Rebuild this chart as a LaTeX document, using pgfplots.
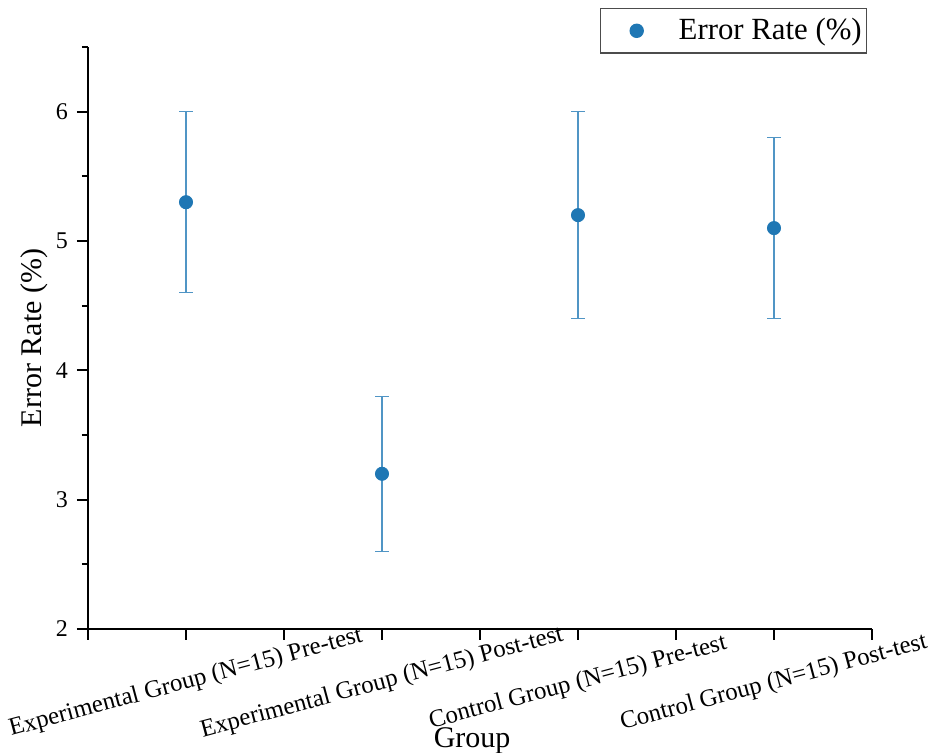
\documentclass[border=0pt]{standalone}
\usepackage{pgfplots}
\pgfplotsset{compat=1.18}
\usepackage{fontspec}
\setmainfont{Liberation Serif}
\definecolor{ptblue}{HTML}{1F77B4}
\begin{document}
\begin{tikzpicture}
\useasboundingbox (-44pt,-62pt) rectangle (425pt,314.5pt);
\begin{axis}[
  at={(0,0)}, anchor=south west,
  scale only axis,
  width=392pt, height=291pt,
  xmin=0.5, xmax=4.5,
  ymin=2, ymax=6.5,
  axis x line*=bottom,
  axis y line*=left,
  axis line style={line width=1pt, black},
  tick align=outside,
  xtick={0.5,1,1.5,2,2.5,3,3.5,4,4.5},
  xticklabels={,Experimental Group (N=15) Pre-test,,Experimental Group (N=15) Post-test,,Control Group (N=15) Pre-test,,Control Group (N=15) Post-test,},
  ytick={2,3,4,5,6},
  minor ytick={2.5,3.5,4.5,5.5,6.5},
  major tick length=5.5pt, minor tick length=3pt,
  tick style={line width=1pt, black},
  /pgf/number format/assume math mode=true,
  ticklabel style={font=\fontsize{12}{14}\selectfont},
  yticklabel style={xshift=-1pt},
  xticklabel style={font=\fontsize{12.4}{15}\selectfont, yshift=-21.5pt, rotate=15, anchor=center},
  xlabel={Group},
  ylabel={Error Rate (\%)},
  label style={font=\fontsize{15}{18}\selectfont},
  xlabel style={at={(axis description cs:0.49,-0.168)}, anchor=north, inner sep=0pt},
  ylabel style={at={(axis description cs:-0.068,0.5)}, anchor=center, inner sep=0pt},
  legend style={at={(0.994,1.067)}, anchor=north east, draw=black!70, line width=0.6pt,
    font=\fontsize{15.4}{18}\selectfont, inner xsep=0.5pt, inner ysep=3pt},
  legend cell align=left,
  legend image code/.code={%
    \path[draw=none, fill=none] (-17.5pt,-3.3pt) rectangle (19pt,3.3pt);
    \draw[#1] plot coordinates {(0pt,0pt)};},
  clip=false,
]
\addplot[
  only marks, mark=*, mark size=3.3pt,
  mark options={fill=ptblue, draw=ptblue},
  error bars/.cd, y dir=both, y explicit,
  error bar style={color=ptblue!78!white, line width=0.6pt},
  error mark options={rotate=90, mark size=3.3pt, color=ptblue!78!white, line width=0.6pt},
] coordinates {
  (1,5.3) +- (0,0.7)
  (2,3.2) +- (0,0.6)
  (3,5.2) +- (0,0.8)
  (4,5.1) +- (0,0.7)
};
\addlegendentry{Error Rate (\%)}
\end{axis}
\end{tikzpicture}
\end{document}
